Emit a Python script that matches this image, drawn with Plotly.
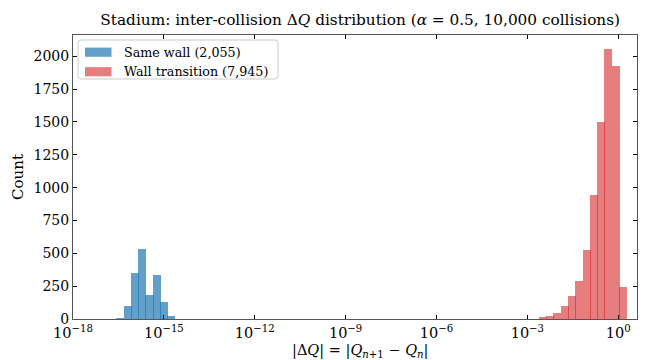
import numpy as np
import plotly.graph_objects as go

# Histogram bins: 79 log-spaced bins between 1e-18 and 1e1 (edges as log10 exponents)
log_edges = np.linspace(-18, 1, 80)

# Same-wall collisions: counts for consecutive bins starting at bin index 6
same_wall_first_bin = 6
same_wall_counts = [10, 101, 347, 535, 185, 337, 132, 25]

# Wall-transition collisions: counts for consecutive bins starting at bin index 63
transition_first_bin = 63
transition_counts = [3, 13, 25, 43, 101, 177, 291, 527, 945, 1503, 2058, 1929, 246]

# Axis ticks
x_tick_exponents = [-18, -15, -12, -9, -6, -3, 0]
y_tick_values = [0, 250, 500, 750, 1000, 1250, 1500, 1750, 2000]

# Legend entries
legend_labels = ["Same wall (2,055)", "Wall transition (7,945)"]

BLUE_FILL = "rgba(31,119,180,0.70)"
RED_FILL = "rgba(214,39,40,0.60)"
FONT = "DejaVu Serif"

bin_w = log_edges[1] - log_edges[0]


def bins_for(first, counts):
    idx = np.arange(first, first + len(counts))
    centers = (log_edges[idx] + log_edges[idx + 1]) / 2
    return centers, counts


fig = go.Figure()
for (first, counts), fill in [((same_wall_first_bin, same_wall_counts), BLUE_FILL),
                              ((transition_first_bin, transition_counts), RED_FILL)]:
    cx, cy = bins_for(first, counts)
    fig.add_trace(go.Bar(
        x=cx, y=cy, width=[bin_w * 1.1] * len(cx),
        marker=dict(color=fill, line=dict(width=0)),
        showlegend=False,
    ))

# Plot-area geometry in pixels (for the hand-drawn legend)
W, H = 649, 360
L, R, T, B = 73, 637, 35, 319


def px(x):
    return (x - L) / (R - L)


def py(y):
    return (B - y) / (B - T)


shapes = []
annotations = []

# legend frame with rounded corners
x0, x1, y0, y1, r = 78, 278, 40, 79, 3
path = (f"M {px(x0 + r)},{py(y0)} L {px(x1 - r)},{py(y0)} Q {px(x1)},{py(y0)} {px(x1)},{py(y0 + r)} "
        f"L {px(x1)},{py(y1 - r)} Q {px(x1)},{py(y1)} {px(x1 - r)},{py(y1)} "
        f"L {px(x0 + r)},{py(y1)} Q {px(x0)},{py(y1)} {px(x0)},{py(y1 - r)} "
        f"L {px(x0)},{py(y0 + r)} Q {px(x0)},{py(y0)} {px(x0 + r)},{py(y0)} Z")
shapes.append(dict(type="path", xref="paper", yref="paper", path=path,
                   fillcolor="rgba(255,255,255,0.8)", line=dict(color="#cccccc", width=1)))

for i, (label, fill) in enumerate(zip(legend_labels, [BLUE_FILL, RED_FILL])):
    yc = 52.2 + i * 19.5
    shapes.append(dict(type="rect", xref="paper", yref="paper",
                       x0=px(85), x1=px(111.5), y0=py(yc - 4.6), y1=py(yc + 4.6),
                       fillcolor=fill, line=dict(width=0)))
    annotations.append(dict(xref="paper", yref="paper", x=px(122), y=py(yc),
                            xanchor="left", yanchor="middle", showarrow=False,
                            text=label, font=dict(family=FONT, size=12.7, color="black")))

# x-axis title
annotations.append(dict(
    xref="paper", yref="paper", x=px(360), y=py(351), xanchor="center", yanchor="middle",
    showarrow=False,
    text="|Δ<i>Q</i>| = |<i>Q</i><sub><i>n</i>+1</sub> − <i>Q</i><sub><i>n</i></sub>|",
    font=dict(family=FONT, size=14.5, color="black"),
))

fig.update_layout(
    width=W, height=H,
    margin=dict(l=L, r=W - R, t=T, b=H - B),
    paper_bgcolor="white", plot_bgcolor="white",
    barmode="overlay", bargap=0,
    font=dict(family=FONT, size=13.5, color="black"),
    title=dict(
        text="Stadium: inter-collision Δ<i>Q</i> distribution (<i>α</i> = 0.5, 10,000 collisions)",
        x=(L + R) / 2 / W + 0.008, xanchor="center", y=1 - 20 / H, yanchor="middle",
        font=dict(family=FONT, size=15.3, color="black"),
    ),
    shapes=shapes,
    annotations=annotations,
)

fig.update_xaxes(
    range=[-18, 0.62], showgrid=False, zeroline=False, automargin=False,
    showline=True, linecolor="#555555", linewidth=1, mirror="ticks",
    ticks="inside", ticklen=4, tickcolor="black", tickwidth=1,
    tickvals=x_tick_exponents,
    ticktext=[f"10<sup>{'−' if e < 0 else ''}{abs(e)}</sup>" for e in x_tick_exponents],
    tickfont=dict(family=FONT, size=14.5),
    ticklabelstandoff=1,
)
fig.update_yaxes(
    range=[0, 2162], showgrid=False, zeroline=False, automargin=False,
    showline=True, linecolor="#555555", linewidth=1, mirror="ticks",
    ticks="inside", ticklen=4, tickcolor="black", tickwidth=1,
    tickvals=y_tick_values,
    tickfont=dict(family=FONT, size=14),
    title=dict(text="Count", font=dict(family=FONT, size=15), standoff=6),
)

fig.write_html("out.html")
